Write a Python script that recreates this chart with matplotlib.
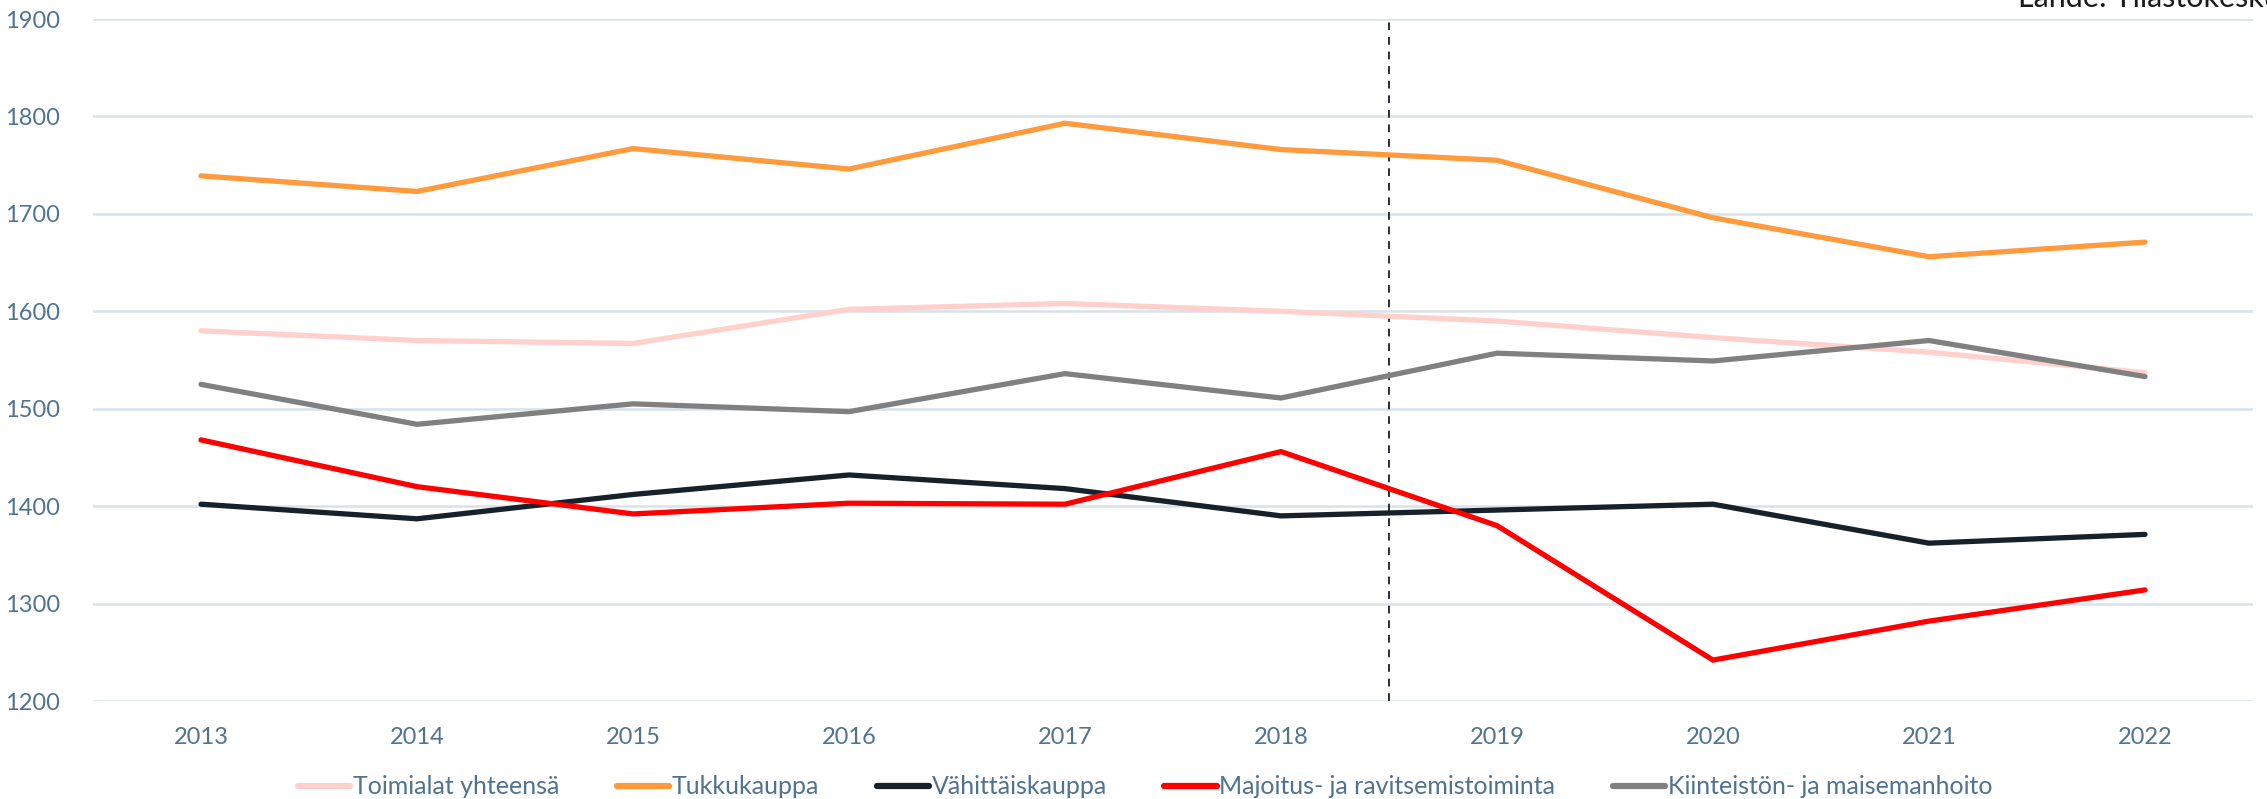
import matplotlib
matplotlib.use("Agg")
import matplotlib.pyplot as plt

years = ["2013", "2014", "2015", "2016", "2017", "2018", "2019", "2020", "2021", "2022"]
toimialat = [1580, 1570, 1567, 1602, 1608, 1600, 1590, 1573, 1558, 1537]
tukku = [1739, 1723, 1767, 1746, 1793, 1766, 1755, 1696, 1656, 1671]
vahittais = [1402, 1387, 1412, 1432, 1418, 1390, 1396, 1402, 1362, 1371]
majoitus = [1468, 1420, 1392, 1403, 1402, 1456, 1380, 1242, 1282, 1314]
kiinteisto = [1525, 1484, 1505, 1497, 1536, 1511, 1557, 1549, 1570, 1533]

series_names = ["Toimialat yhteensä", "Tukkukauppa", "Vähittäiskauppa",
                "Majoitus- ja ravitsemistoiminta", "Kiinteistön- ja maisemanhoito"]
series_values = [toimialat, tukku, vahittais, majoitus, kiinteisto]
series_colors = ["#ffd0cc", "#ff9b3d", "#17212a", "#ff0000", "#808080"]
yticks = [1200, 1300, 1400, 1500, 1600, 1700, 1800, 1900]
source_text = "Lähde: Tilastokeskus"

plt.rcParams['font.family'] = ['Lato', 'DejaVu Sans']
tick_color = "#4f7390"

fig = plt.figure(figsize=(22.67, 7.99), dpi=100)
ax = fig.add_axes([93/2267, 1-701/799, (2253-93)/2267, (701-19)/799])

x = list(range(len(years)))
for name, vals, col in zip(series_names, series_values, series_colors):
    ax.plot(x, vals, color=col, lw=3.8, label=name, solid_capstyle='round',
            solid_joinstyle='miter')

ax.axvline(5.5, color="#2a2f35", lw=1.4, ls=(0, (4, 3.5)), zorder=1)

ax.set_xlim(-0.5, 9.5)
ax.set_ylim(1200, 1900)
ax.set_yticks(yticks)
ax.set_xticks(x)
ax.set_xticklabels(years)
ax.grid(axis='y', color="#d8e2ea", lw=1.8, zorder=0)
ax.set_axisbelow(True)
for s in ax.spines.values():
    s.set_visible(False)
ax.tick_params(axis='both', length=0, labelsize=17, colors=tick_color)
ax.tick_params(axis='y', pad=24)
ax.tick_params(axis='x', pad=19)

leg = fig.legend(loc='center', bbox_to_anchor=(1145/2267, 1-787/799), ncol=5,
                 frameon=False, fontsize=18, handlelength=2.1, handletextpad=0.1,
                 columnspacing=2.3)
for t in leg.get_texts():
    t.set_color(tick_color)
for h in leg.get_lines():
    h.set_linewidth(4.5)

fig.text(2018/2267, 1-7/799, source_text, ha='left', va='baseline',
         fontsize=22, color="#1a1a1a")

fig.savefig("out.png", dpi=100)
